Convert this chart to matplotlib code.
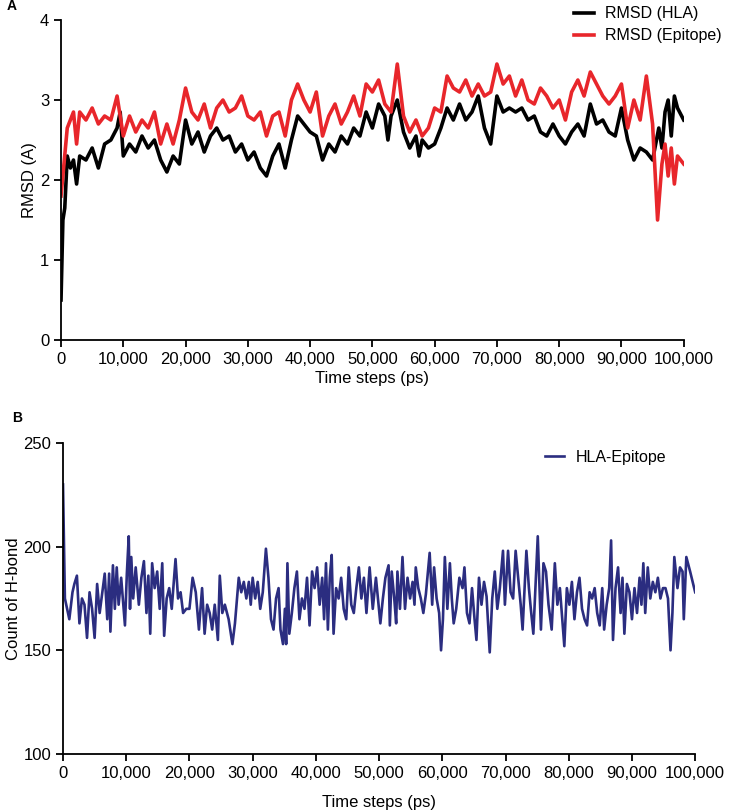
import matplotlib
matplotlib.use('Agg')
import matplotlib.pyplot as plt
from matplotlib.ticker import FuncFormatter

plt.rcParams['font.family'] = ['Liberation Sans', 'DejaVu Sans']

# Panel A - RMSD values
hla_t = [0, 300, 600, 1000, 1500, 2000, 2500, 3000, 4000, 5000, 6000, 7000, 8000, 9000, 9500,
         10000, 11000, 12000, 13000, 14000, 15000, 16000, 17000, 18000, 19000, 20000, 21000,
         22000, 23000, 24000, 25000, 26000, 27000, 28000, 29000, 30000, 31000, 32000, 33000,
         34000, 35000, 36000, 37000, 38000, 39000, 40000, 41000, 42000, 43000, 44000, 45000,
         46000, 47000, 48000, 49000, 50000, 51000, 52000, 52500, 53000, 54000, 55000, 56000,
         57000, 57500, 58000, 59000, 60000, 61000, 62000, 63000, 64000, 65000, 66000, 67000,
         68000, 69000, 70000, 71000, 72000, 73000, 74000, 75000, 76000, 77000, 78000, 79000,
         80000, 81000, 82000, 83000, 84000, 85000, 86000, 87000, 88000, 89000, 90000, 91000,
         92000, 93000, 94000, 95000, 96000, 96500, 97000, 97500, 98000, 98500, 99000, 100000]
hla_v = [0.50, 1.50, 1.65, 2.30, 2.15, 2.25, 1.95, 2.30, 2.25, 2.40, 2.15, 2.45, 2.50, 2.65, 2.85,
         2.30, 2.45, 2.35, 2.55, 2.40, 2.50, 2.25, 2.10, 2.30, 2.20, 2.75, 2.45,
         2.60, 2.35, 2.55, 2.65, 2.50, 2.55, 2.35, 2.45, 2.25, 2.35, 2.15, 2.05,
         2.30, 2.45, 2.15, 2.50, 2.80, 2.70, 2.60, 2.55, 2.25, 2.45, 2.35, 2.55,
         2.45, 2.65, 2.55, 2.85, 2.65, 2.95, 2.80, 2.50, 2.80, 3.00, 2.60, 2.40,
         2.55, 2.30, 2.50, 2.40, 2.45, 2.65, 2.90, 2.75, 2.95, 2.75, 2.85, 3.05,
         2.65, 2.45, 3.05, 2.85, 2.90, 2.85, 2.90, 2.75, 2.80, 2.60, 2.55, 2.70,
         2.55, 2.45, 2.60, 2.70, 2.55, 2.95, 2.70, 2.75, 2.60, 2.55, 2.90, 2.50,
         2.25, 2.40, 2.35, 2.25, 2.65, 2.40, 2.85, 3.00, 2.55, 3.05, 2.90, 2.75]

epi_t = [0, 1000, 2000, 2500, 3000, 4000, 5000, 6000, 7000, 8000, 9000, 10000, 11000, 12000,
         13000, 14000, 15000, 16000, 17000, 18000, 19000, 20000, 21000, 22000, 23000, 24000,
         25000, 26000, 27000, 28000, 29000, 30000, 31000, 32000, 33000, 34000, 35000, 36000,
         37000, 38000, 39000, 40000, 41000, 42000, 43000, 44000, 45000, 46000, 47000, 48000,
         49000, 50000, 51000, 52000, 53000, 54000, 55000, 56000, 57000, 58000, 59000, 60000,
         61000, 62000, 63000, 64000, 65000, 66000, 67000, 68000, 69000, 70000, 71000, 72000,
         73000, 74000, 75000, 76000, 77000, 78000, 79000, 80000, 81000, 82000, 83000, 84000,
         85000, 86000, 87000, 88000, 89000, 90000, 91000, 92000, 93000, 94000, 95000, 95800,
         96500, 97000, 97500, 98000, 98500, 99000, 100000]
epi_v = [1.80, 2.65, 2.85, 2.45, 2.85, 2.75, 2.90, 2.70, 2.80, 2.75, 3.05, 2.55, 2.80, 2.60,
         2.75, 2.65, 2.85, 2.45, 2.70, 2.45, 2.75, 3.15, 2.85, 2.75, 2.95, 2.65,
         2.90, 3.00, 2.85, 2.90, 3.05, 2.80, 2.75, 2.85, 2.55, 2.80, 2.85, 2.55,
         3.00, 3.20, 3.00, 2.85, 3.10, 2.55, 2.80, 2.95, 2.70, 2.85, 3.05, 2.80,
         3.20, 3.10, 3.25, 2.95, 2.85, 3.45, 2.80, 2.60, 2.75, 2.55, 2.65, 2.90,
         2.85, 3.30, 3.15, 3.10, 3.25, 3.05, 3.20, 3.05, 3.10, 3.45, 3.20, 3.30,
         3.05, 3.25, 3.00, 2.95, 3.15, 3.05, 2.90, 3.00, 2.75, 3.10, 3.25, 3.05,
         3.35, 3.20, 3.05, 2.95, 3.05, 3.20, 2.65, 3.00, 2.75, 3.30, 2.70, 1.50,
         2.20, 2.45, 2.05, 2.40, 1.95, 2.30, 2.20]

# Panel B - H-bond count
hb_t = [0, 300, 1000, 1500, 1800, 2200, 2600, 3000, 3400, 3800, 4200, 4600, 5000, 5400, 5800,
        6600, 7000, 7300, 7500, 7900, 8200, 8500, 8800, 9200, 9800, 10100, 10400, 10600, 10800,
        11100, 11500, 12000, 12400, 12800, 13200, 13500, 13800, 14100, 14500, 14900, 15300,
        15700, 16000, 16400, 16800, 17200, 17800, 18200, 18600, 19000, 19500, 20000, 20500,
        21000, 21500, 22000, 22400, 22800, 23200, 23600, 24000, 24500, 24800, 25200, 25600,
        26200, 26800, 27200, 27800, 28200, 28600, 29000, 29400, 29700, 30000, 30400, 30800,
        31200, 31600, 32100, 32500, 32900, 33300, 33700, 34100, 34400, 34800, 35100, 35300,
        35500, 35800, 36200, 36600, 37000, 37400, 37800, 38200, 38600, 39000, 39400, 39800,
        40200, 40600, 41000, 41300, 41600, 41900, 42200, 42500, 42800, 43200, 43600, 44000,
        44400, 44800, 45200, 45600, 46000, 46400, 46800, 47200, 47600, 48000, 48500, 49000,
        49500, 50200, 50600, 51000, 51500, 51700, 52000, 52400, 52700, 52900, 53300, 53700,
        54100, 54500, 54900, 55300, 55600, 55800, 56200, 56600, 57000, 57400, 58000, 58400,
        58700, 59100, 59500, 59800, 60100, 60400, 60800, 61200, 61500, 61800, 62200, 62700,
        63200, 63500, 63900, 64300, 64700, 65100, 65400, 65800, 66200, 66600, 67000, 67500,
        67900, 68300, 68700, 69100, 69600, 69900, 70400, 70800, 71200, 71600, 72000, 72400,
        72700, 73300, 73700, 74000, 74400, 74800, 75100, 75600, 76000, 76400, 76800, 77300,
        77800, 78200, 78600, 79300, 79700, 80100, 80500, 80900, 81300, 81700, 82100, 82500,
        82900, 83300, 83700, 84100, 84500, 84900, 85300, 85600, 86000, 86400, 86700, 87000,
        87400, 87800, 88200, 88500, 88800, 89200, 89600, 90000, 90400, 90800, 91200, 91500,
        91800, 92100, 92500, 92900, 93300, 93700, 94100, 94500, 94900, 95300, 95700, 96100,
        96400, 96700, 97200, 97600, 98000, 98200, 98600, 99200, 100000]
hb_v = [230, 175, 165, 178, 182, 186, 163, 175, 172, 156, 178, 170, 156, 182, 168,
        187, 165, 187, 159, 191, 170, 190, 172, 185, 162, 187, 205, 170, 195,
        175, 190, 172, 185, 193, 168, 186, 158, 192, 180, 188, 170,
        192, 157, 175, 180, 170, 194, 175, 178, 168, 170, 170, 185,
        178, 160, 180, 158, 172, 168, 160, 172, 155, 186, 168, 172,
        165, 153, 163, 185, 178, 183, 175, 183, 172, 185, 175, 183,
        170, 178, 199, 185, 165, 160, 175, 180, 160, 153, 170, 153,
        192, 158, 168, 180, 188, 165, 175, 170, 185, 162, 188, 180,
        190, 172, 185, 165, 192, 160, 185, 196, 158, 180, 175, 185,
        170, 165, 190, 172, 168, 180, 190, 175, 185, 168, 190, 170,
        185, 163, 175, 185, 191, 162, 188, 175, 163, 188, 170, 195,
        170, 185, 175, 183, 172, 190, 180, 175, 168, 177, 197, 172,
        190, 175, 168, 150, 165, 195, 170, 192, 175, 163, 170, 185,
        180, 190, 168, 163, 180, 165, 155, 185, 172, 183, 176, 149,
        175, 188, 170, 180, 198, 172, 198, 178, 175, 198, 185, 172,
        160, 198, 180, 170, 158, 185, 205, 160, 192, 188, 172, 160,
        192, 172, 180, 152, 180, 172, 183, 165, 178, 185, 170, 165,
        162, 178, 175, 180, 168, 162, 180, 160, 172, 180, 203, 155,
        180, 190, 168, 185, 158, 182, 178, 165, 180, 168, 185, 172,
        192, 168, 190, 175, 183, 178, 185, 175, 180, 180, 175, 150,
        168, 195, 180, 190, 188, 165, 195, 188, 178]

x_ticks = list(range(0, 100001, 10000))
comma = FuncFormatter(lambda v, p: '{:,.0f}'.format(v))

fig = plt.figure(figsize=(7.3, 8.11), dpi=100)
ax1 = fig.add_axes([0.0836, 0.5808, 0.853, 0.3945])
ax2 = fig.add_axes([0.0863, 0.0703, 0.866, 0.3835])

for ax in (ax1, ax2):
    ax.spines['top'].set_visible(False)
    ax.spines['right'].set_visible(False)
    ax.spines['left'].set_linewidth(1.3)
    ax.spines['bottom'].set_linewidth(1.3)
    ax.tick_params(direction='out', length=5, width=1.3, labelsize=12)
    ax.set_xlim(0, 100000)
    ax.set_xticks(x_ticks)
    ax.xaxis.set_major_formatter(comma)

ax1.plot(hla_t, hla_v, color='black', lw=2.6, label='RMSD (HLA)')
ax1.plot(epi_t, epi_v, color='#e8262b', lw=2.6, label='RMSD (Epitope)')
ax1.set_ylim(0, 4)
ax1.set_yticks([0, 1, 2, 3, 4])
ax1.set_xlabel('Time steps (ps)', fontsize=12, labelpad=3)
ax1.set_ylabel('RMSD (A)', fontsize=12, labelpad=2)
ax1.legend(loc='upper left', bbox_to_anchor=(0.80, 1.088), frameon=False,
           handlelength=1.3, handletextpad=0.7, fontsize=11.5, labelspacing=0.45)

ax2.plot(hb_t, hb_v, color='#2b2d80', lw=1.9, label='HLA-Epitope')
ax2.set_ylim(100, 250)
ax2.set_yticks([100, 150, 200, 250])
ax2.set_xlabel('Time steps (ps)', fontsize=12, labelpad=10)
ax2.set_ylabel('Count of H-bond', fontsize=12, labelpad=2)
ax2.legend(loc='upper left', bbox_to_anchor=(0.74, 1.025), frameon=False,
           handlelength=1.2, handletextpad=0.7, fontsize=11.5)

fig.text(0.009, 0.993, 'A', fontsize=10, fontweight='bold', va='center')
fig.text(0.016, 0.484, 'B', fontsize=10, fontweight='bold', va='center')

fig.savefig('out.png', dpi=100)
